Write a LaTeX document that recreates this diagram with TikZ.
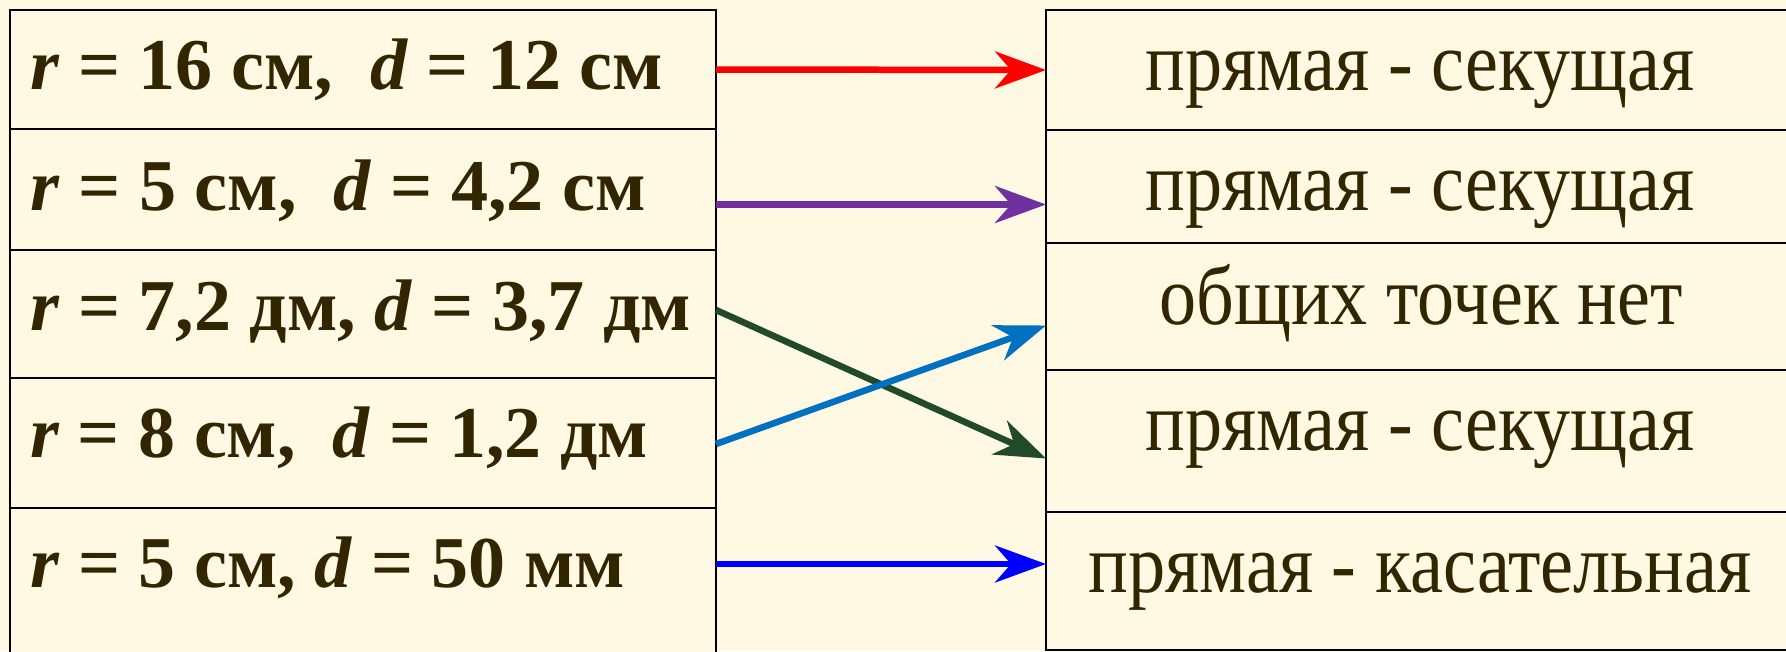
\documentclass[tikz,border=0pt]{standalone}
\usepackage{fontspec}
\setmainfont{Liberation Serif}
\usepackage{graphicx}
\usetikzlibrary{arrows.meta}

\definecolor{paper}{HTML}{FFF8E3}
\definecolor{ink}{RGB}{50,38,0}
\definecolor{linkred}{HTML}{FF0000}
\definecolor{linkpurple}{HTML}{7030A0}
\definecolor{linkgreen}{HTML}{214A2B}
\definecolor{linkteal}{HTML}{0070C0}
\definecolor{linkblue}{HTML}{0000FF}

% squeeze a line of text to a given width, keeping its height
\newcommand{\squeezeto}[2]{\resizebox{#1pt}{\height}{#2}}

\tikzset{
  cell/.style={rectangle, draw=black, fill=paper, line width=2.5pt,
               inner sep=0pt, outer sep=0pt},
  lefttxt/.style={inner sep=0pt, anchor=base west, text=ink,
                  font=\fontsize{73}{80}\selectfont\bfseries},
  righttxt/.style={inner sep=0pt, anchor=base, text=ink,
                   font=\fontsize{84}{90}\selectfont},
  link/.style={line width=6.5pt,
               -{Stealth[length=51pt,width=37pt,inset=16pt]}},
}

\begin{document}
\begin{tikzpicture}[x=1pt,y=-1pt]
\useasboundingbox (0,0) rectangle (1786,651);
\clip (0,0) rectangle (1786,651);
\fill[paper] (0,0) rectangle (1786,651);

% left column: radius and distance
\node[cell, minimum width=706pt, minimum height=119pt] (l1) at (363,69.5) {};
\node[cell, minimum width=706pt, minimum height=121pt] (l2) at (363,189.5) {};
\node[cell, minimum width=706pt, minimum height=128pt] (l3) at (363,314) {};
\node[cell, minimum width=706pt, minimum height=130pt] (l4) at (363,443) {};
\node[cell, minimum width=706pt, minimum height=192pt] (l5) at (363,604) {};

% right column: mutual position of line and circle
\node[cell, minimum width=748pt, minimum height=120pt] (r1) at (1420,70) {};
\node[cell, minimum width=748pt, minimum height=113pt] (r2) at (1420,186.5) {};
\node[cell, minimum width=748pt, minimum height=127pt] (r3) at (1420,306.5) {};
\node[cell, minimum width=748pt, minimum height=142pt] (r4) at (1420,441) {};
\node[cell, minimum width=748pt, minimum height=138pt] (r5) at (1420,581) {};

% left texts
\node[lefttxt] (lt1) at (30,89)  {\squeezeto{633}{\textit{r} = 16 см,\ \ \textit{d} = 12 см}};
\node[lefttxt] (lt2) at (30,210) {\squeezeto{616}{\textit{r} = 5 см,\ \ \textit{d} = 4,2 см}};
\node[lefttxt] (lt3) at (30,330) {\squeezeto{661}{\textit{r} = 7,2 дм, \textit{d} = 3,7 дм}};
\node[lefttxt] (lt4) at (30,457) {\squeezeto{618}{\textit{r} = 8 см,\ \ \textit{d} = 1,2 дм}};
\node[lefttxt] (lt5) at (30,587) {\squeezeto{595}{\textit{r} = 5 см, \textit{d} = 50 мм}};

% right texts
\node[righttxt] (rt1) at (1420,90)  {\squeezeto{549}{прямая - секущая}};
\node[righttxt] (rt2) at (1420,210) {\squeezeto{549}{прямая - секущая}};
\node[righttxt] (rt3) at (1421,324) {\squeezeto{523}{общих точек нет}};
\node[righttxt] (rt4) at (1420,450) {\squeezeto{549}{прямая - секущая}};
\node[righttxt] (rt5) at (1420,592) {\squeezeto{663}{прямая - касательная}};

% connectors
\draw[link, linkred]    (l1.east) -- (r1.west);
\draw[link, linkpurple] ([yshift=-15pt]l2.east) -- ([yshift=-18pt]r2.west);
\draw[link, linkgreen]  ([yshift=4pt]l3.east) -- ([yshift=-17.5pt]r4.west);
\draw[link, linkteal]   ([yshift=-1pt]l4.east) -- ([yshift=-19pt]r3.west);
\draw[link, linkblue]   ([yshift=40pt]l5.east) -- ([yshift=17pt]r5.west);
\end{tikzpicture}
\end{document}
